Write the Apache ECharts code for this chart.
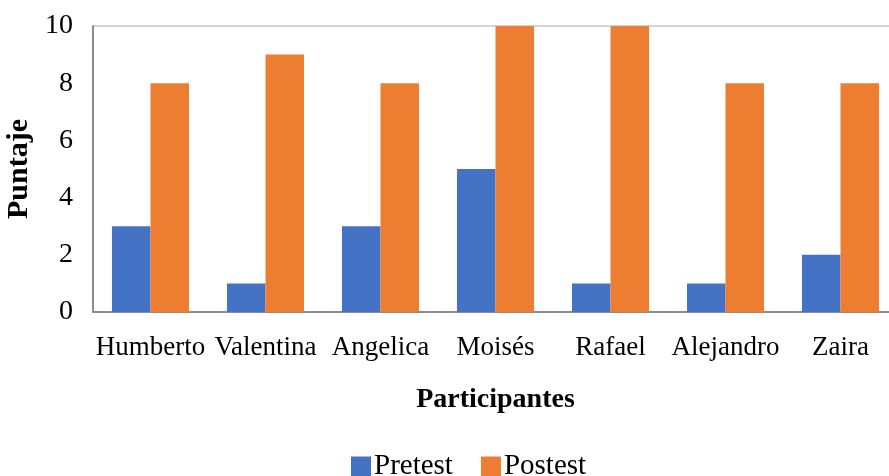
<!DOCTYPE html>
<html>
<head>
<meta charset="utf-8">
<script src="https://cdn.jsdelivr.net/npm/echarts@6/dist/echarts.min.js"></script>
<style>
  html, body { margin: 0; padding: 0; background: #fff; }
  #chart { width: 889px; height: 476px; }
</style>
</head>
<body>
<div id="chart"></div>
<script>
// Participants and their scores before and after the intervention
const participantes = ['Humberto', 'Valentina', 'Angelica', 'Moisés', 'Rafael', 'Alejandro', 'Zaira'];
const pretest = [3, 1, 3, 5, 1, 1, 2];
const postest = [8, 9, 8, 10, 10, 8, 8];
const yTicks = [0, 2, 4, 6, 8, 10];

const serif = '"Liberation Serif", "Times New Roman", serif';
const chart = echarts.init(document.getElementById('chart'));

chart.setOption({
  animation: false,
  textStyle: { fontFamily: serif, color: '#000' },
  grid: { left: 93, right: -9, top: 26, bottom: 164, containLabel: false, outerBoundsMode: 'none' },
  legend: {
    top: 447,
    left: 346,
    itemWidth: 20,
    itemHeight: 20,
    itemGap: 28,
    icon: 'rect',
    textStyle: { fontFamily: serif, fontSize: 29, color: '#000', padding: [0, 0, 0, -2] },
    data: ['Pretest', 'Postest']
  },
  xAxis: {
    type: 'category',
    data: participantes,
    name: 'Participantes',
    nameLocation: 'middle',
    nameGap: 74,
    nameTextStyle: { fontFamily: serif, fontSize: 28, fontWeight: 'bold', color: '#000' },
    axisLine: { lineStyle: { color: '#8c8c8c', width: 2 } },
    axisTick: { show: false },
    axisLabel: { interval: 0, margin: 22, fontFamily: serif, fontSize: 27, color: '#000' }
  },
  yAxis: {
    type: 'value',
    min: yTicks[0],
    max: yTicks[yTicks.length - 1],
    interval: 2,
    name: 'Puntaje',
    nameLocation: 'middle',
    nameGap: 58,
    nameTextStyle: { fontFamily: serif, fontSize: 30, fontWeight: 'bold', color: '#000' },
    axisLine: { show: true, lineStyle: { color: '#8c8c8c', width: 2 } },
    axisTick: { show: false },
    axisLabel: { margin: 20, fontFamily: serif, fontSize: 28, color: '#000' },
    splitLine: {
      show: true,
      lineStyle: {
        color: ['rgba(0,0,0,0)', 'rgba(0,0,0,0)', 'rgba(0,0,0,0)', 'rgba(0,0,0,0)', 'rgba(0,0,0,0)', '#d4d4d4'],
        width: 2
      }
    }
  },
  series: [
    {
      name: 'Pretest',
      type: 'bar',
      data: pretest,
      barGap: '0%',
      barCategoryGap: '33%',
      itemStyle: { color: '#4472C4' }
    },
    {
      name: 'Postest',
      type: 'bar',
      data: postest,
      itemStyle: { color: '#ED7D31' }
    }
  ]
});
</script>
</body>
</html>
